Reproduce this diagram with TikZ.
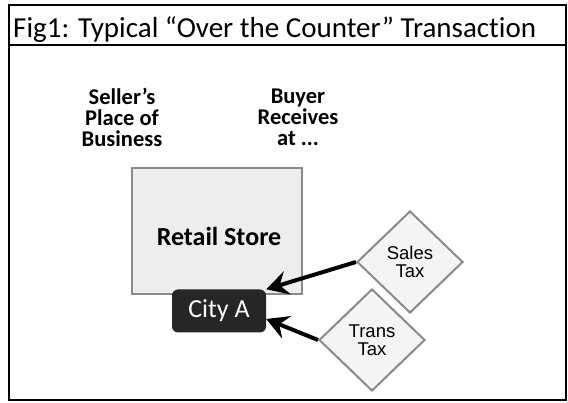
\documentclass[tikz,border=0pt]{standalone}
\usepackage{fontspec}
\setmainfont[Ligatures=NoCommon]{Carlito}
\newfontfamily\diafont{Liberation Sans}
\usetikzlibrary{shapes.geometric,arrows.meta}
\definecolor{boxgray}{HTML}{EDEDED}
\definecolor{edgegray}{HTML}{8A8A8A}
\tikzset{
  headlabel/.style={align=center,font=\fontsize{22.5}{21}\selectfont\bfseries},
  storebox/.style={draw=edgegray,line width=2.5pt,fill=boxgray,minimum width=170pt,minimum height=126pt,inner sep=0pt},
  citybox/.style={fill=black!85,rounded corners=6pt,text=white,minimum width=94pt,minimum height=43pt,inner sep=0pt,font=\fontsize{26}{26}\selectfont},
  taxdia/.style={diamond,draw=edgegray,line width=2pt,fill=boxgray!60,minimum width=106pt,minimum height=102pt,inner sep=0pt,align=center,font=\diafont\fontsize{18.5}{18}\selectfont},
  taxarrow/.style={line width=4pt,-{Stealth[length=22pt,width=24pt,inset=8pt]}}
}
\begin{document}
\begin{tikzpicture}[x=1pt,y=-1pt]
\useasboundingbox (0,0) rectangle (568,403);
\draw[line width=1.8pt] (9,5) rectangle (566,400);
\draw[line width=1.5pt] (9,45) -- (566,45);
\node[anchor=base west,inner sep=0pt,font=\fontsize{29}{29}\selectfont] (title) at (13,38) {Fig1: Typical “Over the Counter” Transaction};
\node[headlabel] (seller) at (122,117) {Seller’s\\Place of\\Business};
\node[headlabel] (buyer) at (298,117) {Buyer\\Receives\\at ...};
\node[storebox] (store) at (217,231) {};
\node[font=\fontsize{26}{26}\selectfont\bfseries] (storetext) at (219,236) {Retail Store};
\node[citybox] (city) at (219,311) {City A};
\node[taxdia] (sales) at (410,262) {Sales\\Tax};
\node[taxdia] (trans) at (372,340) {Trans\\Tax};
\draw[taxarrow] (sales.west) -- (city.north east);
\draw[taxarrow] (trans.west) -- ([yshift=-8pt]city.east);
\end{tikzpicture}
\end{document}
